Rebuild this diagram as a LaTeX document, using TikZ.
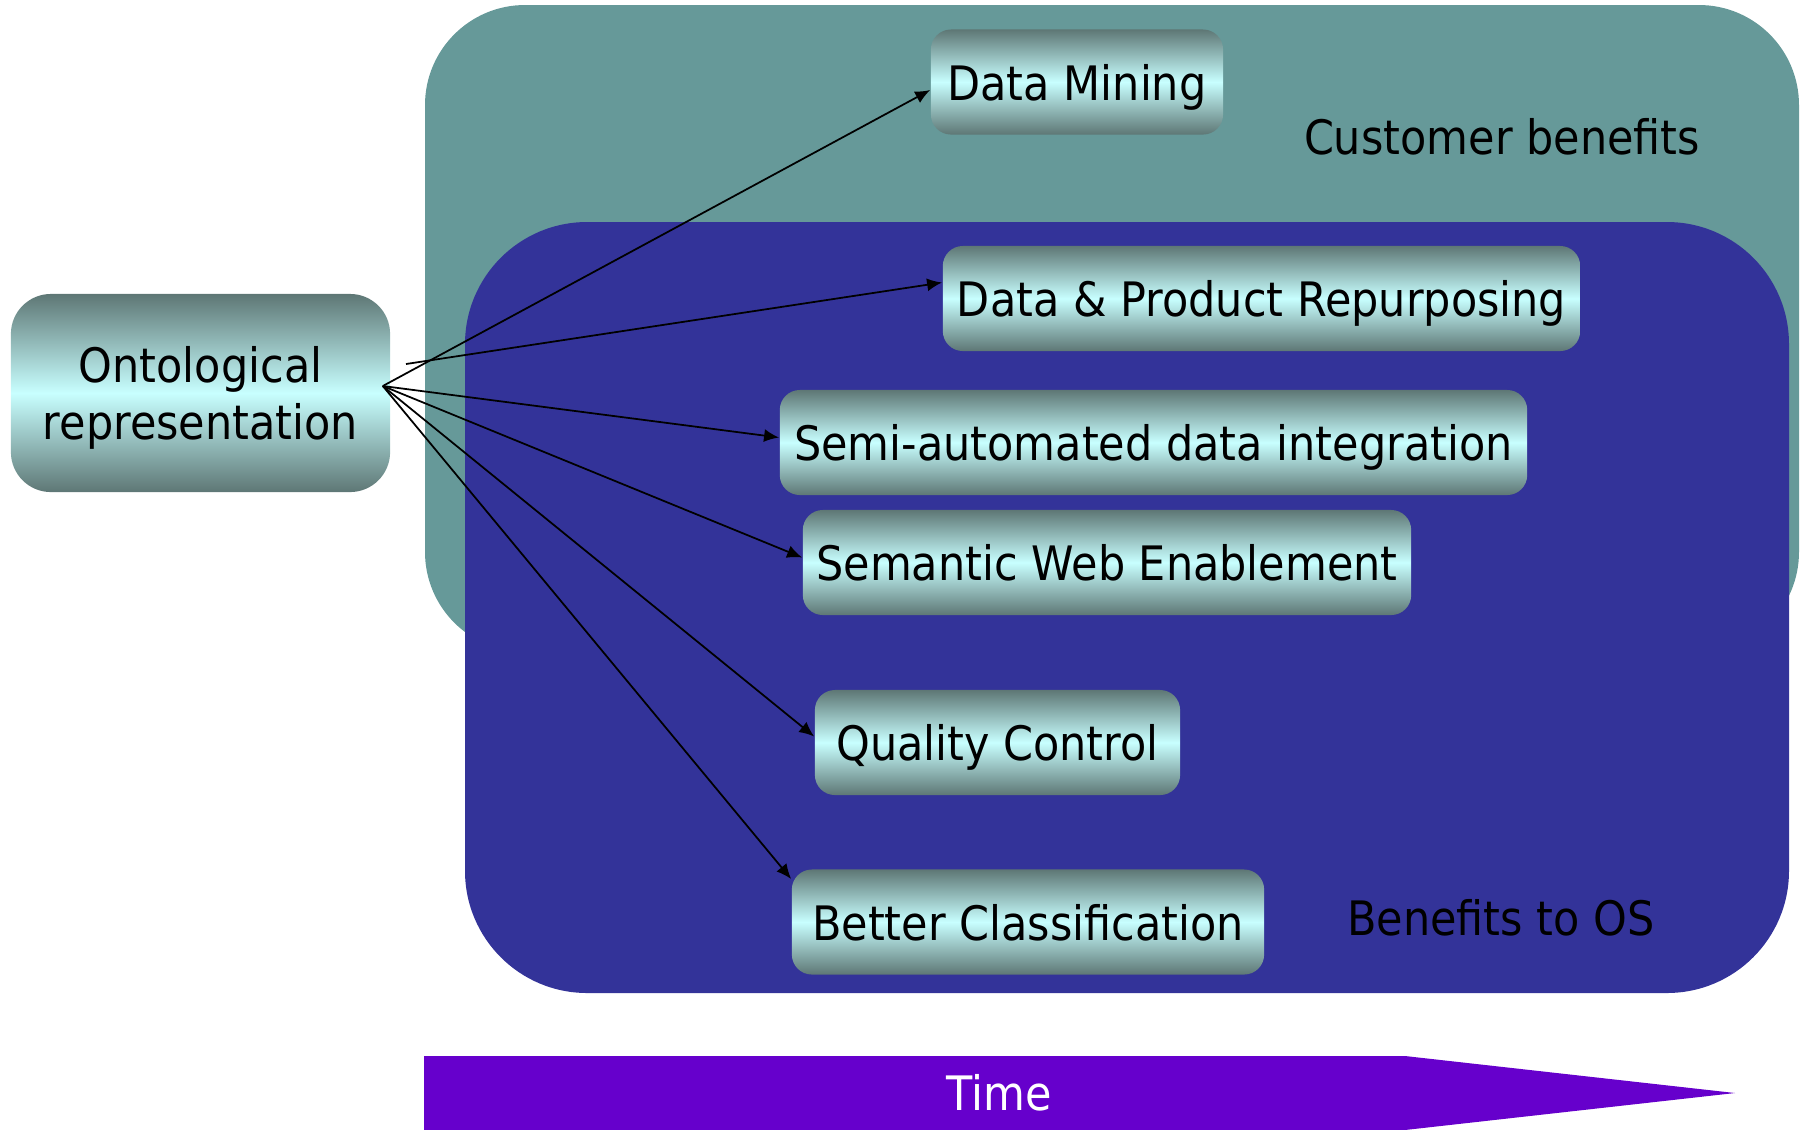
\documentclass[tikz,border=0pt]{standalone}
\usepackage{fontspec}
\setmainfont{DejaVu Sans}[FakeStretch=0.905]
\usetikzlibrary{arrows.meta}
\definecolor{custteal}{RGB}{102,153,153}
\definecolor{osblue}{RGB}{51,51,153}
\definecolor{timepurple}{RGB}{102,0,204}
\definecolor{boxdark}{RGB}{94,119,117}
\definecolor{boxlight}{RGB}{200,255,255}

\begin{document}
\begin{tikzpicture}[x=0.01cm,y=-0.01cm,
	txt/.style={font=\fontsize{13.5}{16.2}\selectfont},
	benefit/.style={txt,shape=rectangle,rounded corners=0.2cm,top color=boxdark,bottom color=boxdark,middle color=boxlight,minimum height=1.05cm,inner sep=0pt,text depth=0pt},
	link/.style={-{Latex[length=1.5mm,width=1.3mm]},line width=0.5pt,black}]
			\useasboundingbox (0,0) rectangle (1808,1129);
			
			% background areas
			\fill[custteal,rounded corners=1cm] (425,5) rectangle (1799,652);
			\fill[osblue,rounded corners=1.22cm] (465,222) rectangle (1789,993);
			\fill[timepurple] (424,1056) -- (1405,1056) -- (1735,1093) -- (1405,1130) -- (424,1130) -- cycle;
			
			\node[txt] (cust) at (1502,137) {Customer benefits};
			\node[txt] (os) at (1501,918) {Benefits to OS};
			\node[txt,text=white] (time) at (999,1093) {Time};
			
			\node[benefit,minimum width=3.79cm,minimum height=1.98cm,rounded corners=0.4cm,align=center] (onto) at (200.5,393) {Ontological\\representation};
			\node[benefit,minimum width=2.92cm] (mining) at (1077,82) {Data Mining};
			\node[benefit,minimum width=6.37cm] (repurp) at (1261.5,298.5) {Data \& Product Repurposing};
			\node[benefit,minimum width=7.47cm] (semi) at (1153.5,442.5) {Semi-automated data integration};
			\node[benefit,minimum width=6.08cm] (semweb) at (1107,562.5) {Semantic Web Enablement};
			\node[benefit,minimum width=3.65cm] (quality) at (997.5,742.5) {Quality Control};
			\node[benefit,minimum width=4.72cm] (better) at (1028,922) {Better Classification};
			
			\coordinate (src) at ([xshift=-0.08cm,yshift=0.07cm]onto.east);
			\coordinate (src2) at (406,364);
			
			\path [link] (src) edge ([yshift=-0.08cm]mining.west);
			\path [link] (src2) edge ([yshift=0.16cm]repurp.west);
			\path [link] (src) edge ([yshift=0.05cm]semi.west);
			\path [link] (src) edge ([yshift=0.05cm]semweb.west);
			\path [link] (src) edge ([yshift=0.06cm]quality.west);
			\path [link] (src) edge ([yshift=0.43cm]better.west);
\end{tikzpicture}
\end{document}
